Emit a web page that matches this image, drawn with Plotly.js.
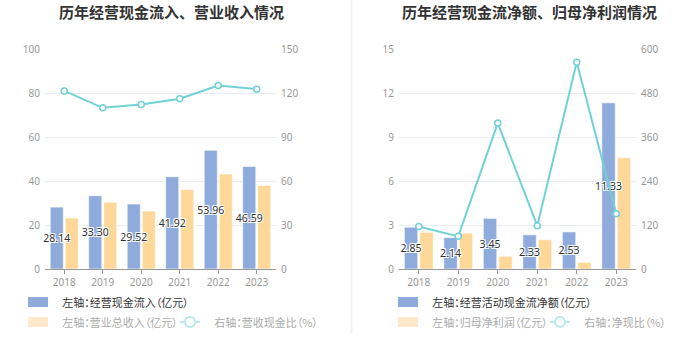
<!DOCTYPE html>
<html><head><meta charset="utf-8">
<script src="https://cdn.plot.ly/plotly-3.0.1.min.js"></script>
<style>html,body{margin:0;padding:0;background:#fff}#chart{width:700px;height:360px}
#chart text{font-feature-settings:"palt" 1;}
#chart text tspan[style*="bold"]{font-feature-settings:normal;}</style>
</head><body><div id="chart"></div>
<script>
// ---- data ----
const years = ['2018','2019','2020','2021','2022','2023'];
const cashInflow = [28.14, 33.30, 29.52, 41.92, 53.96, 46.59];
const revenue = [23.18, 30.30, 26.33, 36.10, 43.15, 38.00];
const cashRevRatio = [121.4, 109.9, 112.1, 116.1, 125.1, 122.6];
const opCashNet = [2.85, 2.14, 3.45, 2.33, 2.53, 11.33];
const netProfit = [2.50, 2.45, 0.87, 2.00, 0.45, 7.58];
const netCashRatio = [116, 89, 398, 118, 564, 151];
const titles = ['历年经营现金流入、营业收入情况', '历年经营现金流净额、归母净利润情况'];
const leftNames = ['左轴：经营现金流入（亿元）', '左轴：营业总收入（亿元）', '右轴：营收现金比（%）'];
const rightNames = ['左轴：经营活动现金流净额（亿元）', '左轴：归母净利润（亿元）', '右轴：净现比（%）'];

// ---- styles ----
const BLUE = '#8eabdb', YEL = '#fed898', CYAN = '#72d1d5';
const FADE_YEL = '#feeacb', FADE_CYAN = '#b9e8ea';
const CJK = '"Noto Sans CJK SC", "Noto Sans", sans-serif';
const NUM = '"Noto Sans", "Noto Sans CJK SC", sans-serif';
const W = 700, H = 360;
const px = v => v / W, py = v => (H - v) / H;

const labelFont = {family: NUM, size: 10.5, color: '#333',
  shadow: '-1px -1px 0 #fff, 1px -1px 0 #fff, -1px 1px 0 #fff, 1px 1px 0 #fff, 0 1px 0 #fff, 0 -1px 0 #fff'};

function barTrace(x, y, name, color, xa, ya, offset, withText) {
  const t = {type: 'bar', x: x, y: y, name: name, xaxis: xa, yaxis: ya,
    offset: offset, width: 0.34,
    marker: {color: color, line: {color: 'rgba(255,255,255,0.6)', width: 1}},
    showlegend: false, hoverinfo: 'skip'};
  if (withText) {
    t.texttemplate = '%{y:.2f}';
    t.textposition = 'inside';
    t.insidetextanchor = 'middle';
    t.textangle = 0;
    t.constraintext = 'none';
    t.textfont = labelFont;
    t.cliponaxis = false;
  }
  return t;
}
function lineTrace(x, y, name, xa, ya) {
  return {type: 'scatter', mode: 'lines+markers', x: x, y: y, name: name, xaxis: xa, yaxis: ya,
    line: {color: CYAN, width: 2},
    marker: {symbol: 'circle', size: 6, color: '#fff', line: {color: CYAN, width: 1.5}},
    showlegend: false, hoverinfo: 'skip', cliponaxis: false};
}

// yellow bars first so the blue bars' labels sit on top of them
const data = [
  barTrace(years, revenue, leftNames[1], YEL, 'x', 'y', 0.025, false),
  barTrace(years, cashInflow, leftNames[0], BLUE, 'x', 'y', -0.365, true),
  lineTrace(years, cashRevRatio, leftNames[2], 'x', 'y2'),
  barTrace(years, netProfit, rightNames[1], YEL, 'x2', 'y3', 0.025, false),
  barTrace(years, opCashNet, rightNames[0], BLUE, 'x2', 'y3', -0.365, true),
  lineTrace(years, netCashRatio, rightNames[2], 'x2', 'y4')
];

const tickFont = {family: NUM, size: 10, color: '#999'};
const yDom = [py(269), py(49)];
function xAxis(dom, anchor) {
  return {domain: dom, anchor: anchor, type: 'category', showgrid: false, zeroline: false,
    showline: true, linecolor: '#999', linewidth: 1, ticks: 'outside', ticklen: 4, tickcolor: '#999',
    tickfont: tickFont, fixedrange: true};
}
function yLeft(range, dtick, anchor) {
  return {domain: yDom, anchor: anchor, range: range, dtick: dtick, tick0: 0, showgrid: true,
    gridcolor: '#e8ecf4', gridwidth: 1, zeroline: false, showline: false, ticks: '',
    tickfont: tickFont, ticklabelstandoff: 4, fixedrange: true};
}
function yRight(range, dtick, anchor, over) {
  return {domain: yDom, anchor: anchor, overlaying: over, side: 'right', range: range, dtick: dtick,
    tick0: 0, showgrid: false, zeroline: false, showline: false, ticks: '', tickfont: tickFont,
    ticklabelstandoff: 4, fixedrange: true};
}

const annotations = [];
const shapes = [];
// titles
annotations.push({text: '<b>' + titles[0] + '</b>', x: px(171), y: py(12), xref: 'paper', yref: 'paper',
  xanchor: 'center', yanchor: 'middle', showarrow: false, font: {family: CJK, size: 15, color: '#333'}});
annotations.push({text: '<b>' + titles[1] + '</b>', x: px(529), y: py(12), xref: 'paper', yref: 'paper',
  xanchor: 'center', yanchor: 'middle', showarrow: false, font: {family: CJK, size: 15, color: '#333'}});
// divider
shapes.push({type: 'line', xref: 'paper', yref: 'paper', x0: px(351.5), x1: px(351.5), y0: py(333), y1: 1,
  line: {color: '#f1f1f1', width: 2}});

// custom legends
function legendBlock(names, x0, lineX0) {
  const r1 = 302, r2 = 322;
  const items = [
    {kind: 'bar', color: BLUE, name: names[0], sx: x0, row: r1, tc: '#333'},
    {kind: 'bar', color: FADE_YEL, name: names[1], sx: x0, row: r2, tc: '#aaa'},
    {kind: 'line', color: FADE_CYAN, name: names[2], sx: lineX0, row: r2, tc: '#aaa'}
  ];
  items.forEach(it => {
    if (it.kind === 'bar') {
      shapes.push({type: 'rect', xref: 'paper', yref: 'paper', x0: px(it.sx), x1: px(it.sx + 20),
        y0: py(it.row + 5), y1: py(it.row - 5), fillcolor: it.color, line: {width: 0}});
    } else {
      shapes.push({type: 'line', xref: 'paper', yref: 'paper', x0: px(it.sx), x1: px(it.sx + 20),
        y0: py(it.row), y1: py(it.row), line: {color: it.color, width: 2}});
      shapes.push({type: 'circle', xref: 'paper', yref: 'paper', x0: px(it.sx + 5), x1: px(it.sx + 15),
        y0: py(it.row + 5), y1: py(it.row - 5), fillcolor: '#fff', line: {color: it.color, width: 2}});
    }
    annotations.push({text: it.name, x: px(it.sx + 24), y: py(it.row), xref: 'paper', yref: 'paper',
      xanchor: 'left', yanchor: 'middle', showarrow: false, font: {family: CJK, size: 11, color: it.tc}});
  });
}
legendBlock(leftNames, 28, 180);
legendBlock(rightNames, 398, 550);

const layout = {
  width: W, height: H, margin: {l: 0, r: 0, t: 0, b: 0},
  paper_bgcolor: '#fff', plot_bgcolor: 'rgba(0,0,0,0)',
  barmode: 'overlay',
  showlegend: false,
  xaxis: xAxis([px(45), px(276)], 'y'),
  yaxis: yLeft([0, 100], 20, 'x'),
  yaxis2: yRight([0, 150], 30, 'x', 'y'),
  xaxis2: xAxis([px(399), px(636)], 'y3'),
  yaxis3: yLeft([0, 15], 3, 'x2'),
  yaxis4: yRight([0, 600], 120, 'x2', 'y3'),
  annotations: annotations, shapes: shapes
};
Plotly.newPlot('chart', data, layout, {displayModeBar: false, staticPlot: true});
</script></body></html>
